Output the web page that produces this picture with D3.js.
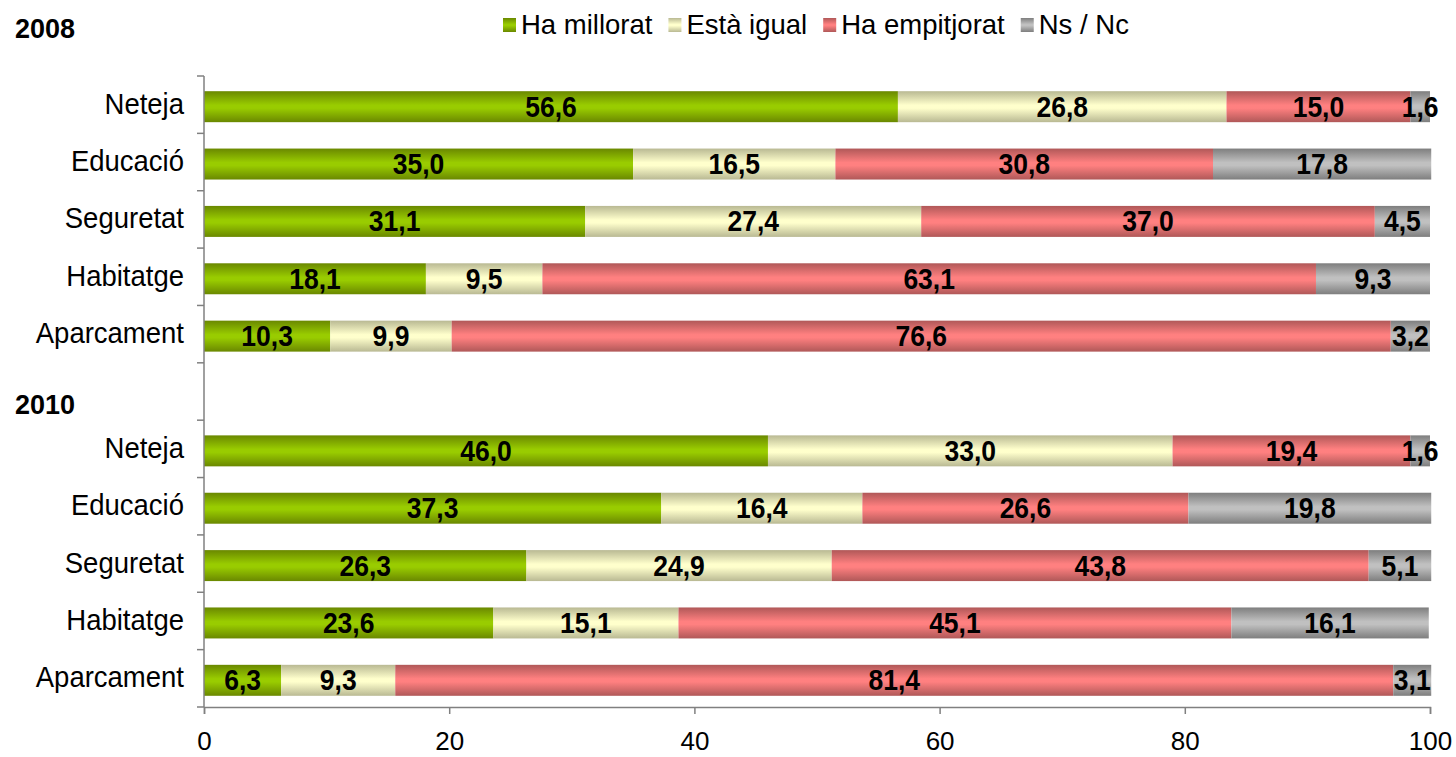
<!DOCTYPE html>
<html>
<head>
<meta charset="utf-8">
<script src="https://cdn.jsdelivr.net/npm/d3@7"></script>
<style>
  body { margin: 0; background: #fff; }
  text { font-family: "Liberation Sans", Arial, sans-serif; }
</style>
</head>
<body>
<div id="chart"></div>
<script>
// 1: DATA
const seriesNames = ["Ha millorat", "Està igual", "Ha empitjorat", "Ns / Nc"];
const categories = ["Neteja", "Educació", "Seguretat", "Habitatge", "Aparcament"];
const years = ["2008", "2010"];
const values2008 = [
    [56.6, 26.8, 15.0, 1.6],
    [35.0, 16.5, 30.8, 17.8],
    [31.1, 27.4, 37.0, 4.5],
    [18.1, 9.5, 63.1, 9.3],
    [10.3, 9.9, 76.6, 3.2]
];
const values2010 = [
    [46.0, 33.0, 19.4, 1.6],
    [37.3, 16.4, 26.6, 19.8],
    [26.3, 24.9, 43.8, 5.1],
    [23.6, 15.1, 45.1, 16.1],
    [6.3, 9.3, 81.4, 3.1]
];
const xTicks = [0, 20, 40, 60, 80, 100];

// gradient stops: edge colour, middle colour
const colors = [
    ["#6a8800", "#99cc00"],
    ["#b9b993", "#ffffcc"],
    ["#b05858", "#ff8080"],
    ["#7e7e7e", "#c0c0c0"]
];

// 2: LAYOUT
const W = 1456, H = 757;
const plotLeft = 204, plotRight = 1430, plotTop = 76, plotBottom = 707;

const svg = d3.select("#chart").append("svg")
    .attr("width", W).attr("height", H);

const defs = svg.append("defs");
colors.forEach((c, i) => {
    const g = defs.append("linearGradient")
        .attr("id", "grad" + i)
        .attr("x1", 0).attr("y1", 0).attr("x2", 0).attr("y2", 1);
    g.append("stop").attr("offset", "0%").attr("stop-color", c[0]);
    g.append("stop").attr("offset", "45%").attr("stop-color", c[1]);
    g.append("stop").attr("offset", "55%").attr("stop-color", c[1]);
    g.append("stop").attr("offset", "100%").attr("stop-color", c[0]);
});

// rows: 5 for 2008, a gap, 5 for 2010
const rows = [];
categories.forEach((c, i) => rows.push({ key: "2008-" + i, name: c, vals: values2008[i] }));
rows.push({ key: "gap", name: "", vals: null });
categories.forEach((c, i) => rows.push({ key: "2010-" + i, name: c, vals: values2010[i] }));

// 3: SCALES
const x = d3.scaleLinear().domain([0, 100]).range([plotLeft, plotRight]);
const y = d3.scaleBand().domain(rows.map(d => d.key)).range([plotTop, plotBottom]).paddingInner(0.46).paddingOuter(0.23);
const yStep = d3.scaleLinear().domain([0, rows.length]).range([plotTop, plotBottom]);
const yMid = k => y(k) + 2 + y.bandwidth() / 2;

// 4: BARS
const stacked = rows.filter(r => r.vals).flatMap(r => {
    let acc = 0;
    return r.vals.map((v, i) => {
        const seg = { key: r.key, i, v, x0: acc, x1: acc + v };
        acc += v;
        return seg;
    });
});

svg.append("g").selectAll("rect")
    .data(stacked)
    .enter()
    .append("rect")
    .attr("x", d => x(d.x0))
    .attr("y", d => y(d.key) + 2)
    .attr("width", d => x(d.x1) - x(d.x0))
    .attr("height", y.bandwidth())
    .attr("fill", d => `url(#grad${d.i})`);

svg.append("g").selectAll("text")
    .data(stacked)
    .enter()
    .append("text")
    .attr("transform", d => `translate(${(x(d.x0) + x(d.x1)) / 2},${yMid(d.key) + 10}) scale(1,1.08)`)
    .attr("text-anchor", "middle")
    .style("font-size", "26.5px")
    .style("font-weight", "bold")
    .text(d => d3.format(".1f")(d.v).replace(".", ","));

// 5: AXES
const yAxisG = svg.append("g").attr("transform", `translate(${plotLeft},0)`);
yAxisG.append("line")
    .attr("x1", 0).attr("x2", 0)
    .attr("y1", plotTop).attr("y2", plotBottom)
    .attr("stroke", "#808080").attr("stroke-width", 1.5);
yAxisG.selectAll(".tick")
    .data(d3.range(rows.length + 1))
    .enter()
    .append("line")
    .attr("x1", -7).attr("x2", 0)
    .attr("y1", d => yStep(d)).attr("y2", d => yStep(d))
    .attr("stroke", "#808080").attr("stroke-width", 1.5);
yAxisG.selectAll(".lbl")
    .data(rows.filter(r => r.vals))
    .enter()
    .append("text")
    .attr("transform", d => `translate(-20,${yMid(d.key) + 7}) scale(1,1.05)`)
    .attr("text-anchor", "end")
    .style("font-size", "27.5px")
    .text(d => d.name);

const xAxisG = svg.append("g").attr("transform", `translate(0,${plotBottom})`)
    .call(d3.axisBottom(x).tickValues(xTicks).tickSize(7).tickPadding(0).tickFormat(d3.format("d")));
xAxisG.select(".domain").attr("stroke", "#808080").attr("stroke-width", 1.5);
xAxisG.selectAll(".tick line").attr("stroke", "#808080").attr("stroke-width", 1.5);
xAxisG.selectAll(".tick text")
    .attr("y", 43).attr("dy", null)
    .style("font-family", "'Liberation Sans', Arial, sans-serif")
    .style("font-size", "26px").attr("fill", "#000");

// 6: YEAR LABELS
svg.append("text").attr("x", 15).attr("y", 38)
    .style("font-size", "27px").style("font-weight", "bold").text(years[0]);
svg.append("text").attr("x", 15).attr("y", 414)
    .style("font-size", "27px").style("font-weight", "bold").text(years[1]);

// 7: LEGEND
const legend = svg.append("g").attr("transform", "translate(503,0)");
let lx = 0;
seriesNames.forEach((name, i) => {
    const item = legend.append("g").attr("transform", `translate(${lx},0)`);
    item.append("rect")
        .attr("y", 18)
        .attr("width", 13).attr("height", 14)
        .attr("fill", `url(#grad${i})`);
    const t = item.append("text")
        .attr("x", 18).attr("y", 34)
        .style("font-size", "27.5px")
        .text(name);
    lx += 18 + t.node().getComputedTextLength() + 16;
});
</script>
</body>
</html>
